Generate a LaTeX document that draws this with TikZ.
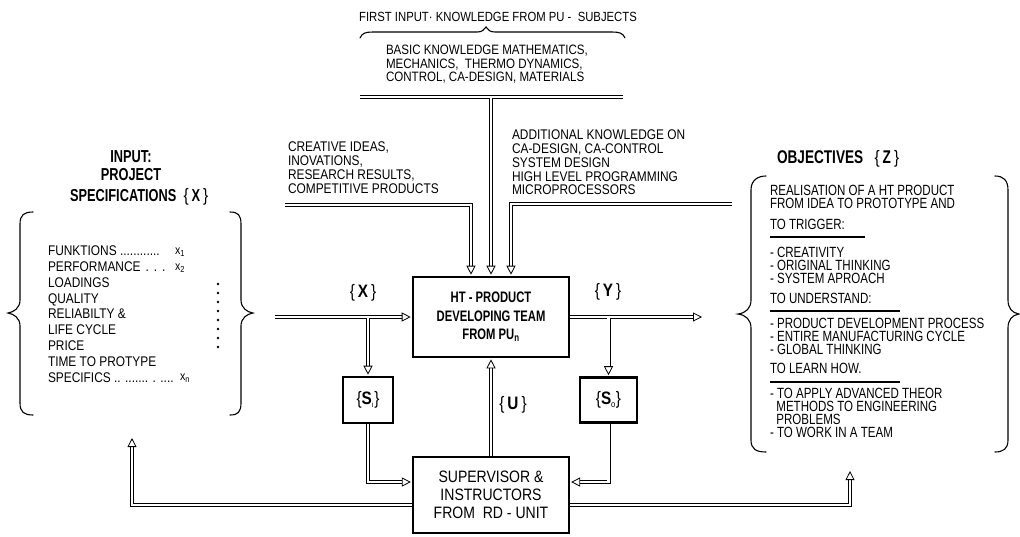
\documentclass[tikz,border=0pt]{standalone}
\usepackage{fontspec}
\setmainfont{Liberation Sans}
\newfontfamily\nf[FakeStretch=0.85]{Liberation Sans}
\newfontfamily\nc[FakeStretch=0.74]{Liberation Sans}
\newfontfamily\no[FakeStretch=0.78]{Liberation Sans}
\usetikzlibrary{arrows.meta}

\newcommand\fsz[2]{\fontsize{#1}{#2}\selectfont}
\newcommand\curlyfont{\nf\mdseries\fsz{18}{18}}

\tikzset{
  txt/.style={inner sep=0pt, outer sep=0pt},
  dbl/.style={draw, line width=0.8pt, double, double distance=2.4pt},
  tip/.style={-{Triangle[open, fill=white, length=9pt, width=9pt, line width=0.8pt]}, shorten >=1pt},
  mainbox/.style={draw, line width=2.6pt, minimum width=156pt, minimum height=80pt, align=center,
                  font=\nc\bfseries\fsz{15.2}{18.5}},
  sbox/.style={draw, line width=2.6pt, minimum height=46pt, font=\nf\fsz{18}{18}},
  supbox/.style={draw, line width=2.2pt, minimum width=156pt, minimum height=76pt, align=center,
                 font=\nf\fsz{16.5}{18}},
  lbl/.style={txt, font=\nf\fsz{18}{18}},
  brace/.style={draw, line width=1.1pt, line cap=round},
  uline/.style={draw, line width=2pt},
  small/.style={txt, align=left, font=\nf\fsz{14}{14}},
  obj/.style={txt, anchor=north west, align=left, font=\no\fsz{14.8}{13.2}},
  head/.style={txt, font=\nc\bfseries\fsz{17.3}{18}}
}

\begin{document}
\begin{tikzpicture}[x=1pt, y=-1pt]
\useasboundingbox (0,0) rectangle (1020,536);

% ---------- first input: knowledge from PU subjects ----------
\node[txt, font=\nf\fsz{13.3}{14}] (title) at (498,17) {FIRST INPUT· KNOWLEDGE FROM PU -\ \ SUBJECTS};
\draw[brace] (360,38) .. controls (362,33) and (366,32) .. (373,32) -- (477,32)
  .. controls (482,32) and (484,30) .. (486,27) .. controls (488,30) and (490,32) .. (495,32)
  -- (612,32) .. controls (619,32) and (623,33) .. (625,38);
\node[small, anchor=north west, font=\nf\fsz{13.6}{13.6}] (basic) at (386,45)
  {BASIC KNOWLEDGE MATHEMATICS,\\MECHANICS,\ \ THERMO DYNAMICS,\\CONTROL, CA-DESIGN, MATERIALS};

% ---------- side inputs ----------
\node[small, anchor=north west] (creative) at (288,142)
  {CREATIVE IDEAS,\\INOVATIONS,\\RESEARCH RESULTS,\\COMPETITIVE PRODUCTS};
\node[small, anchor=north west, font=\nf\fsz{14}{13.8}] (additional) at (512,130)
  {ADDITIONAL KNOWLEDGE ON\\CA-DESIGN, CA-CONTROL\\SYSTEM DESIGN\\HIGH LEVEL PROGRAMMING\\MICROPROCESSORS};

% ---------- blocks ----------
\node[mainbox] (ht) at (491,317) {HT - PRODUCT\\DEVELOPING TEAM\\FROM PU\textsubscript{n}};
\node[sbox, minimum width=50pt] (si) at (368,400) {\{\textbf{S}\textsubscript{\fsz{8}{8}ı}\}};
\node[sbox, minimum width=57pt, minimum height=45pt] (so) at (608.5,400) {\{\textbf{S}\textsubscript{\fsz{9}{9}o}\}};
\node[supbox] (sup) at (491,495) {SUPERVISOR \&\\INSTRUCTORS\\FROM\ \ RD - UNIT};

% ---------- connector end points ----------
\coordinate (barL) at (360,97);
\coordinate (barR) at (623,97);
\coordinate (kb) at (491,98.2);
\coordinate (ciL) at (285,205);
\coordinate (akR) at (732,204);
\coordinate (xin) at (275,317);
\coordinate (xb) at (368,318.2);
\coordinate (yout) at (703,317);
\coordinate (yb) at (608.5,318.2);
\coordinate (fbL) at (132,437);
\coordinate (fbR) at (850,470);

% ---------- connectors ----------
\draw[dbl] (barL) -- (barR);
\draw[dbl, tip] (kb) -- (ht.north);
\draw[dbl, tip] (ciL) -| ([xshift=-20pt]ht.north);
\draw[dbl, tip] (akR) -| ([xshift=20pt]ht.north);
\draw[dbl, tip] (xin) -- (ht.west);
\draw[dbl, tip] (xb) -- (si.north);
\draw[dbl, tip] (ht.east) -- (yout);
\draw[dbl, tip] (yb) -- (so.north);
\draw[dbl, tip] (si.south) |- ([yshift=13pt]sup.west);
\draw[dbl, tip] (so.south) |- ([yshift=13pt]sup.east);
\draw[dbl, tip] (sup.north) -- (ht.south);
\draw[dbl, tip] ([yshift=-10pt]sup.west) -| (fbL);
\draw[dbl, tip] ([yshift=-10pt]sup.east) -| (fbR);

% ---------- signal labels ----------
\node[lbl] (lx) at (363,293) {\{\,\textbf{X}\,\}};
\node[lbl] (ly) at (608,292) {\{\,\textbf{Y}\,\}};
\node[lbl] (lu) at (513,405) {\{\,\textbf{U}\,\}};

% ---------- input: project specifications ----------
\node[head] (inp) at (131,157) {INPUT:};
\node[head] (proj) at (131,175) {PROJECT};
\node[head, anchor=west] (specs) at (70,197) {SPECIFICATIONS\ \ {\curlyfont\{\,}X{\curlyfont\,\}}};
\draw[brace] (33,212) .. controls (24,212) and (20,215) .. (20,224) -- (20,300)
  .. controls (20,308) and (14,312) .. (8,313) .. controls (14,314) and (20,318) .. (20,326)
  -- (20,403) .. controls (20,412) and (24,415) .. (33,415);
\draw[brace] (230,212) .. controls (238,212) and (241,215) .. (241,224) -- (241,300)
  .. controls (241,308) and (247,312) .. (253,313) .. controls (247,314) and (241,318) .. (241,326)
  -- (241,403) .. controls (241,412) and (238,415) .. (230,415);
\node[small, anchor=north west, font=\nf\fsz{14}{15.8}] (speclist) at (48,246)
  {FUNKTIONS ............\\PERFORMANCE\hspace{5pt}.\hspace{5pt}.\hspace{5pt}.\\LOADINGS\\QUALITY\\RELIABILTY \&\\LIFE CYCLE\\PRICE\\TIME TO PROTYPE\\SPECIFICS .. ....... . ....};
\node[txt, font=\nf\fsz{12.5}{12}] (x1) at (180,252) {x\textsubscript{1}};
\node[txt, font=\nf\fsz{12.5}{12}] (x2) at (180,268) {x\textsubscript{2}};
\node[txt, font=\nf\fsz{12.5}{12}] (xn) at (185,378) {x\textsubscript{n}};
\foreach \i in {0,...,7} \fill (218,284+9*\i) circle (1.3pt);

% ---------- objectives ----------
\node[head, anchor=west, font=\nc\bfseries\fsz{18.4}{18}] (objh) at (777,159) {OBJECTIVES\ \ \ {\curlyfont\{\,}Z{\curlyfont\,\}}};
\draw[brace] (766,176) .. controls (758,176) and (751,180) .. (751,190) -- (751,300)
  .. controls (751,308) and (746,313) .. (738,314) .. controls (746,315) and (751,320) .. (751,328)
  -- (751,440) .. controls (751,449) and (756,452) .. (766,452);
\draw[brace] (995,176) .. controls (1003,176) and (1008,180) .. (1008,190) -- (1008,300)
  .. controls (1008,308) and (1012,313) .. (1019,314) .. controls (1012,315) and (1008,320) .. (1008,328)
  -- (1008,440) .. controls (1008,449) and (1003,452) .. (995,452);
\node[obj] (o1) at (770,184.7) {REALISATION OF A HT PRODUCT\\FROM IDEA TO PROTOTYPE AND};
\node[obj] (o2) at (770,218.7) {TO TRIGGER:};
\draw[uline] (770,237) -- (865,237);
\node[obj] (o3) at (770,246.7) {- CREATIVITY\\- ORIGINAL THINKING\\- SYSTEM APROACH};
\node[obj] (o4) at (770,292.7) {TO UNDERSTAND:};
\draw[uline] (770,311) -- (900,311);
\node[obj] (o5) at (770,317.7) {- PRODUCT DEVELOPMENT PROCESS\\- ENTIRE MANUFACTURING CYCLE\\- GLOBAL THINKING};
\node[obj] (o6) at (770,362.7) {TO LEARN HOW.};
\draw[uline] (770,382) -- (900,382);
\node[obj] (o7) at (770,387.7) {- TO APPLY ADVANCED THEOR\\\ \ METHODS TO ENGINEERING\\\ \ PROBLEMS\\- TO WORK IN A TEAM};
\end{tikzpicture}
\end{document}
